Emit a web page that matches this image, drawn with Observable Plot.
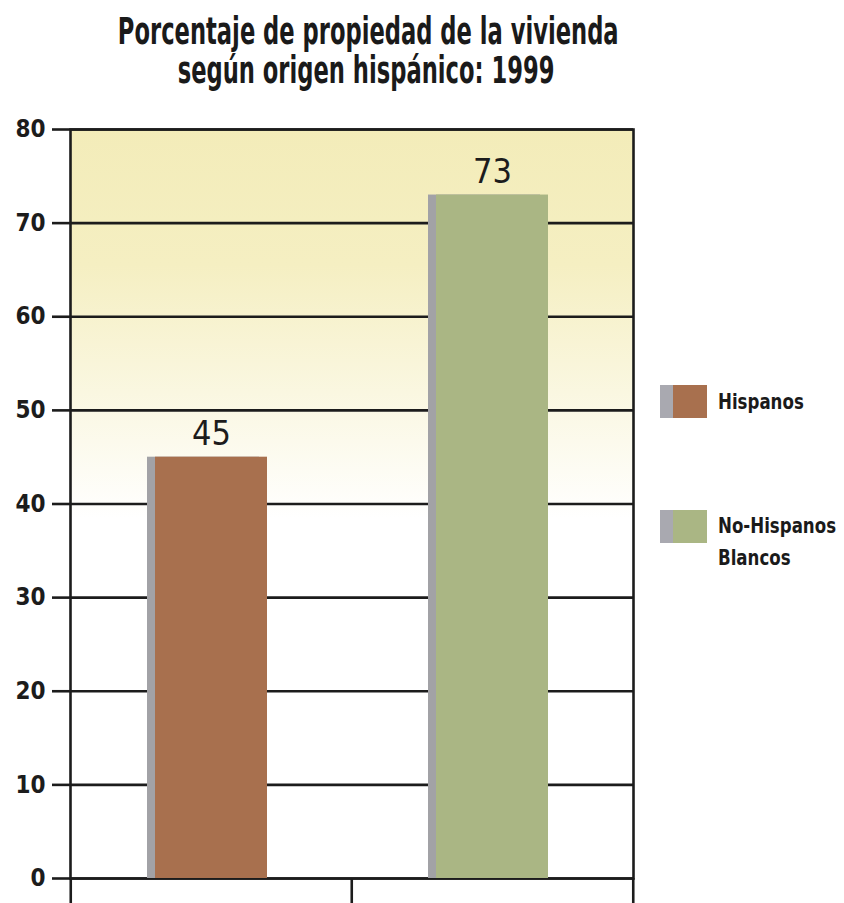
<!DOCTYPE html>
<html>
<head>
<meta charset="utf-8">
<script src="https://cdn.jsdelivr.net/npm/d3@7"></script>
<script src="https://cdn.jsdelivr.net/npm/@observablehq/plot@0.6"></script>
<style>
  html, body { margin: 0; padding: 0; background: #fff; }
  #wrap { position: relative; width: 844px; height: 903px; overflow: hidden;
    font-family: "Liberation Sans Narrow", "DejaVu Sans Condensed", "Liberation Sans", sans-serif; font-stretch: condensed; color: #1a1a1a; }
  #title { position: absolute; left: 0; top: 12px; width: 732px; text-align: center;
    font-size: 37px; font-weight: bold; line-height: 39px; }
  #title span { display: inline-block; transform: scaleX(0.68); transform-origin: center; white-space: nowrap; }
  #chart { position: absolute; left: 0; top: 110px; }
  .leg { position: absolute; left: 660px; }
  .sw { position: absolute; left: 0; width: 47px; height: 33px; }
  .sw .g { position: absolute; left: 0; top: 0; width: 14px; height: 33px; background: #a9a9b0; }
  .sw .c { position: absolute; left: 13px; top: 0; width: 34px; height: 33px; }
  .lt { position: absolute; left: 58px; font-size: 22px; font-weight: bold; line-height: 32px; white-space: nowrap;
    transform: scaleX(0.84); transform-origin: left center; }
</style>
</head>
<body>
<div id="wrap">
  <div id="title"><span>Porcentaje de propiedad de la vivienda</span><br><span>según origen hispánico: 1999</span></div>
  <div id="chart"></div>
  <div id="legend"></div>
</div>
<script>
const categories = ["Hispanos", "No-Hispanos Blancos"];
const legendLabels = [["Hispanos"], ["No-Hispanos", "Blancos"]];
const values = [45, 73];
const colors = ["#a8704e", "#aab684"];
const yTicks = [0, 10, 20, 30, 40, 50, 60, 70, 80];

const data = categories.map((c, i) => ({cat: c, value: values[i], color: colors[i]}));

const W = 844, H = 793, ML = 70, MR = 211, MT = 19, MB = 25;
const step = (W - ML - MR) / categories.length;
const font = '"Liberation Sans Narrow", "DejaVu Sans Condensed", "Liberation Sans", sans-serif';
const ink = "#1c1c1c";

const plot = Plot.plot({
  width: W, height: H,
  marginTop: MT, marginBottom: MB, marginLeft: ML, marginRight: MR,
  style: {fontFamily: font, background: "transparent", color: ink, overflow: "visible"},
  x: {domain: categories, paddingInner: 0.6, paddingOuter: 0.3, axis: null, label: null},
  y: {domain: [0, 80], axis: null, label: null},
  marks: [
    Plot.frame({fill: "url(#bgGrad)", stroke: "none"}),
    Plot.ruleY(yTicks, {stroke: ink, strokeWidth: 2.6}),
    Plot.axisY({ticks: yTicks, tickSize: 18, tickPadding: 7, stroke: ink, strokeWidth: 2.6,
      fontSize: 24, fontWeight: "bold", fill: ink, label: null}),
    // category dividers below the baseline
    Plot.ruleX(categories, {x: d => d, dx: -step / 2, y1: 0, y2: 0, insetBottom: -25, stroke: ink, strokeWidth: 2.6}),
    Plot.ruleX(categories.slice(-1), {x: d => d, dx: step / 2, y1: 0, y2: 0, insetBottom: -25, stroke: ink, strokeWidth: 2.6}),
    Plot.frame({stroke: ink, strokeWidth: 2.6}),
    Plot.barY(data, {x: "cat", y: "value", fill: "#a2a2a6", dx: -8}),
    Plot.barY(data, {x: "cat", y: "value", fill: "color"}),
    Plot.text(data, {x: "cat", y: "value", text: d => String(d.value), dy: -12, lineAnchor: "bottom",
      fontSize: 34, fill: ink, fontWeight: "normal"})
  ]
});

const svg = d3.select(plot);
const defs = svg.insert("defs", ":first-child");
const grad = defs.append("linearGradient").attr("id", "bgGrad")
  .attr("x1", 0).attr("y1", 0).attr("x2", 0).attr("y2", 1);
grad.append("stop").attr("offset", "0%").attr("stop-color", "#f3ecb9");
grad.append("stop").attr("offset", "18%").attr("stop-color", "#f5efc2");
grad.append("stop").attr("offset", "52%").attr("stop-color", "#ffffff");
grad.append("stop").attr("offset", "100%").attr("stop-color", "#ffffff");

document.getElementById("chart").appendChild(plot);

const legend = d3.select("#legend");
const legTops = [385, 510];
legendLabels.forEach((lines, i) => {
  const g = legend.append("div").attr("class", "leg").style("top", legTops[i] + "px");
  const sw = g.append("div").attr("class", "sw");
  sw.append("div").attr("class", "g");
  sw.append("div").attr("class", "c").style("background", colors[i]);
  const t = g.append("div").attr("class", "lt").style("top", (i === 0 ? 1 : 0) + "px");
  t.html(lines.join("<br>"));
});
</script>
</body>
</html>
